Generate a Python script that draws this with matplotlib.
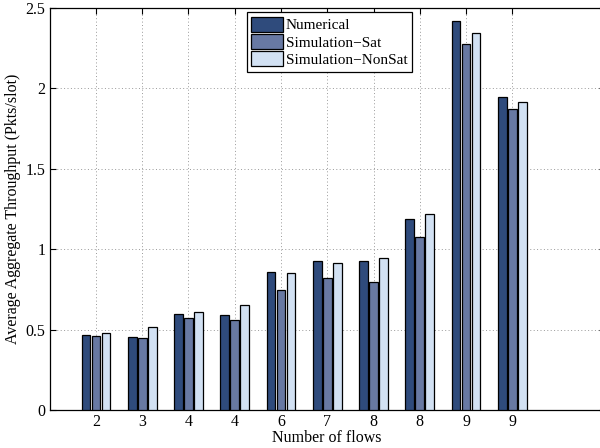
import numpy as np
import matplotlib
matplotlib.use("Agg")
import matplotlib.pyplot as plt

# Data
flow_labels = ["2", "3", "4", "4", "6", "7", "8", "8", "9", "9"]
numerical = [0.464, 0.456, 0.597, 0.593, 0.858, 0.925, 0.929, 1.186, 2.417, 1.947]
sim_sat = [0.460, 0.448, 0.570, 0.562, 0.748, 0.821, 0.796, 1.078, 2.276, 1.872]
sim_nonsat = [0.481, 0.516, 0.611, 0.655, 0.854, 0.912, 0.943, 1.217, 2.342, 1.915]
series_names = ["Numerical", "Simulation\u2212Sat", "Simulation\u2212NonSat"]
colors = ["#2f4b7c", "#6879a3", "#d2e1f3"]

plt.rcParams["font.family"] = ["Liberation Serif", "DejaVu Serif"]
plt.rcParams["font.size"] = 11.5

fig = plt.figure(figsize=(6, 4.48), dpi=100)
ax = fig.add_axes([0.0828, 0.0848, 0.9252, 0.8973])

x = np.arange(1, len(flow_labels) + 1)
step = 0.216
width = 0.19
for i, (vals, name, col) in enumerate(zip([numerical, sim_sat, sim_nonsat], series_names, colors)):
    ax.bar(x + (i - 1) * step, vals, width, color=col, edgecolor="black",
           linewidth=0.9, label=name, zorder=3)

ax.set_xlim(0, 12)
ax.set_ylim(0, 2.5)
ax.set_xticks(x)
ax.set_xticklabels(flow_labels)
ax.set_yticks([0, 0.5, 1, 1.5, 2, 2.5])
ax.set_yticklabels(["0", "0.5", "1", "1.5", "2", "2.5"])
ax.tick_params(direction="in", top=True, right=True, length=4, width=0.8,
               labelsize=11.5, pad=3)
ax.grid(True, linestyle=(0, (1, 2.5)), color="#999999", linewidth=0.7, zorder=0)
ax.set_axisbelow(True)
for sp in ax.spines.values():
    sp.set_linewidth(0.9)

ax.set_xlabel("Number of flows", fontsize=11.5, labelpad=0)
ax.set_ylabel("Average Aggregate Throughput (Pkts/slot)", fontsize=11.5, labelpad=3)

leg = ax.legend(loc="upper left", bbox_to_anchor=(0.355, 0.99), borderaxespad=0,
                fancybox=False, framealpha=1, edgecolor="black", fontsize=11,
                handlelength=2.1, handleheight=1.15, handletextpad=0.15,
                labelspacing=0.1, borderpad=0.3)
leg.get_frame().set_linewidth(0.9)

fig.savefig("out.png", dpi=100)
